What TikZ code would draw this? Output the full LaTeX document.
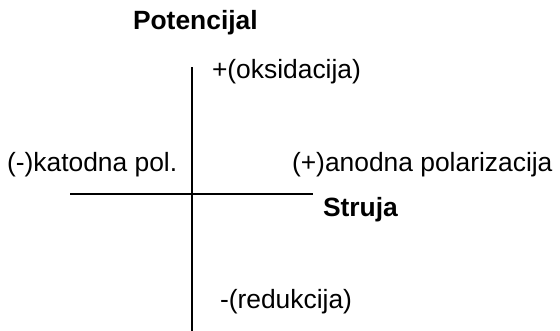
\documentclass[tikz,border=0pt]{standalone}
\usepackage{fontspec}
\setmainfont{Liberation Sans}
\begin{document}
\begin{tikzpicture}[x=1pt,y=-1pt,
  lbl/.style={anchor=base west,inner sep=0pt,outer sep=0pt,font=\fontsize{26.4}{30}\selectfont},
  blbl/.style={lbl,font=\fontsize{26.4}{30}\selectfont\bfseries},
  axis/.style={line width=1.6pt,black}]
\useasboundingbox (0,0) rectangle (560,330);
\coordinate (vtop) at (192,67);
\coordinate (vbot) at (192,331);
\coordinate (hl) at (70,193.7);
\coordinate (hr) at (313,193.7);
\draw[axis] (vtop) -- (vbot);
\draw[axis] (hl) -- (hr);
\node[blbl] (pot) at (133,29) {Potencijal};
\node[lbl] (oks) at (212,78) {+(oksidacija)};
\node[lbl] (kat) at (7,171) {(-)katodna pol.};
\node[lbl] (ano) at (292,171) {(+)anodna polarizacija};
\node[blbl] (str) at (323,216) {Struja};
\node[lbl] (red) at (220,308) {-(redukcija)};
\end{tikzpicture}
\end{document}
